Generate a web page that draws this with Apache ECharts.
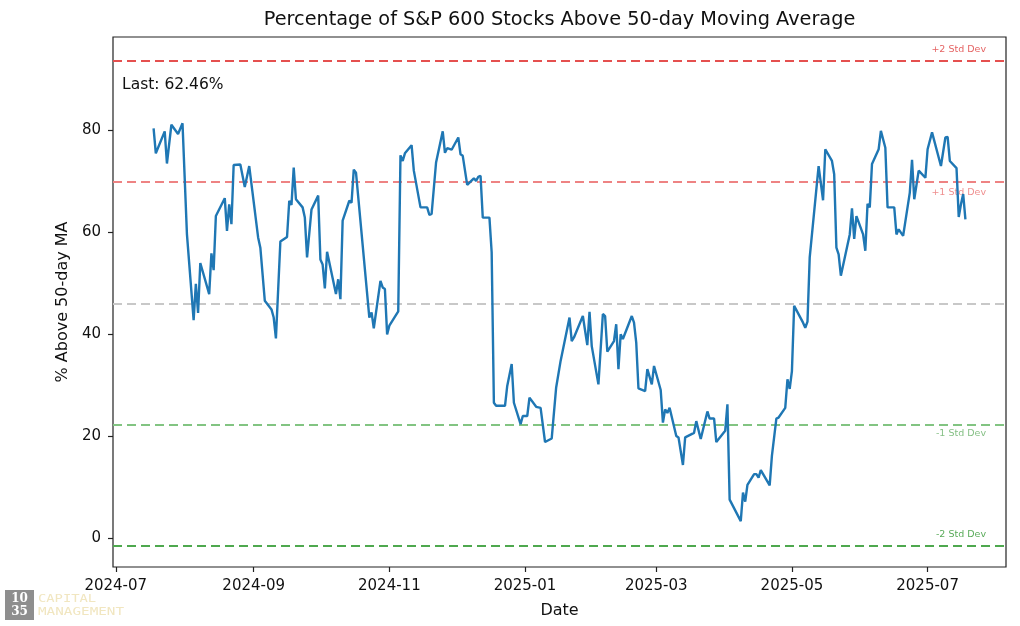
<!DOCTYPE html>
<html>
<head>
<meta charset="utf-8">
<script src="https://cdn.jsdelivr.net/npm/echarts@6/dist/echarts.min.js"></script>
<style>
html,body{margin:0;padding:0;background:#fff;}
#chart{width:1020px;height:626px;}
</style>
</head>
<body>
<div id="chart"></div>
<script>
// ---- data ----
const dates = [
'2024-07-18','2024-07-19','2024-07-23','2024-07-24','2024-07-26','2024-07-29','2024-07-31',
'2024-08-02','2024-08-05','2024-08-06','2024-08-07','2024-08-08','2024-08-12','2024-08-13','2024-08-14','2024-08-15','2024-08-19','2024-08-20','2024-08-21','2024-08-22','2024-08-23','2024-08-26','2024-08-28','2024-08-30',
'2024-09-03','2024-09-04','2024-09-06','2024-09-09','2024-09-10','2024-09-11','2024-09-13','2024-09-16','2024-09-17','2024-09-18','2024-09-19','2024-09-20','2024-09-23','2024-09-24','2024-09-25','2024-09-27','2024-09-30',
'2024-10-01','2024-10-02','2024-10-03','2024-10-04','2024-10-08','2024-10-09','2024-10-10','2024-10-11','2024-10-14','2024-10-15','2024-10-16','2024-10-17','2024-10-23','2024-10-24','2024-10-25','2024-10-28','2024-10-29','2024-10-30','2024-10-31',
'2024-11-01','2024-11-05','2024-11-06','2024-11-07','2024-11-08','2024-11-11','2024-11-12','2024-11-15','2024-11-18','2024-11-19','2024-11-20','2024-11-22','2024-11-25','2024-11-26','2024-11-27','2024-11-29',
'2024-12-02','2024-12-03','2024-12-04','2024-12-06','2024-12-09','2024-12-10','2024-12-11','2024-12-12','2024-12-13','2024-12-16','2024-12-17','2024-12-18','2024-12-19','2024-12-23','2024-12-24','2024-12-26','2024-12-27','2024-12-30','2024-12-31',
'2025-01-02','2025-01-03','2025-01-06','2025-01-08','2025-01-10','2025-01-13','2025-01-15','2025-01-17','2025-01-21','2025-01-22','2025-01-23','2025-01-27','2025-01-29','2025-01-30','2025-01-31',
'2025-02-03','2025-02-05','2025-02-06','2025-02-07','2025-02-10','2025-02-11','2025-02-12','2025-02-13','2025-02-14','2025-02-18','2025-02-19','2025-02-20','2025-02-21','2025-02-24','2025-02-25','2025-02-27','2025-02-28',
'2025-03-03','2025-03-04','2025-03-05','2025-03-06','2025-03-07','2025-03-10','2025-03-11','2025-03-13','2025-03-14','2025-03-18','2025-03-19','2025-03-21','2025-03-24','2025-03-25','2025-03-27','2025-03-28',
'2025-04-01','2025-04-02','2025-04-03','2025-04-08','2025-04-09','2025-04-10','2025-04-11','2025-04-14','2025-04-15','2025-04-16','2025-04-17','2025-04-21','2025-04-22','2025-04-24','2025-04-25','2025-04-28','2025-04-29','2025-04-30',
'2025-05-01','2025-05-02','2025-05-06','2025-05-07','2025-05-08','2025-05-09','2025-05-13','2025-05-15','2025-05-16','2025-05-19','2025-05-20','2025-05-21','2025-05-22','2025-05-23','2025-05-27','2025-05-28','2025-05-29','2025-05-30',
'2025-06-02','2025-06-03','2025-06-04','2025-06-05','2025-06-06','2025-06-09','2025-06-10','2025-06-12','2025-06-13','2025-06-16','2025-06-17','2025-06-18','2025-06-20','2025-06-23','2025-06-24','2025-06-25','2025-06-27','2025-06-30',
'2025-07-01','2025-07-03','2025-07-07','2025-07-09','2025-07-10','2025-07-11','2025-07-14','2025-07-15','2025-07-16','2025-07-17','2025-07-18'
];
const pctAbove = [
80.3, 75.4, 79.7, 73.4, 81.0, 79.2, 81.3,
59.5, 42.7, 49.8, 44.1, 53.9, 47.8, 55.8, 52.5, 63.1, 66.6, 60.2, 65.4, 61.5, 73.1, 73.2, 68.8, 72.9,
58.9, 56.9, 46.5, 44.8, 43.2, 39.1, 58.1, 59.0, 66.1, 65.3, 72.6, 66.4, 64.8, 62.8, 55.0, 64.4, 67.1,
54.6, 53.6, 48.9, 56.1, 47.8, 50.7, 46.8, 62.2, 66.1, 65.7, 72.2, 71.6, 43.2, 44.2, 41.1, 50.4, 49.1, 48.8, 39.9,
41.6, 44.4, 75.0, 73.9, 75.4, 77.0, 72.0, 64.8, 64.8, 63.3, 63.5, 73.6, 79.7, 75.5, 76.4, 76.1,
78.5, 75.2, 74.9, 69.2, 70.5, 70.0, 70.8, 71.0, 62.8, 62.8, 56.0, 26.5, 25.9, 25.9, 29.8, 34.1, 26.5, 22.3, 23.9,
23.9, 27.5, 25.7, 25.5, 18.8, 19.5, 29.5, 34.7, 43.2, 38.6, 39.3, 43.5, 37.8, 44.3, 37.6,
30.1, 43.9, 43.5, 36.5, 38.6, 41.9, 33.1, 39.9, 39.0, 43.5, 42.2, 38.3, 29.3, 28.8, 33.1, 30.1, 33.7,
29.0, 22.6, 25.2, 24.5, 25.5, 20.0, 19.7, 14.3, 19.7, 20.6, 22.9, 19.4, 24.8, 23.4, 23.4, 18.8,
21.0, 26.2, 7.5, 3.3, 8.9, 7.1, 10.4, 12.5, 12.5, 11.8, 13.3, 10.3, 16.1, 23.4, 23.6, 25.5, 31.1, 29.2,
32.7, 45.5, 42.2, 41.2, 42.4, 55.0, 72.9, 66.2, 76.2, 73.9, 71.3, 56.9, 55.6, 51.4, 59.5, 64.6, 58.6, 63.1,
59.5, 56.3, 65.5, 64.8, 73.3, 76.2, 79.8, 76.5, 64.8, 64.8, 59.5, 60.5, 59.2, 67.7, 74.1, 66.4, 72.0, 70.6,
76.2, 79.5, 72.9, 78.5, 78.6, 73.9, 72.5, 62.9, 65.4, 67.4, 62.46
];
const meanValue = 46.0;
const stdValue = 23.8;
const bandLabels = ['+2 Std Dev', '+1 Std Dev', '', '-1 Std Dev', '-2 Std Dev'];
const bandMultipliers = [2, 1, 0, -1, -2];
const xTickLabels = ['2024-07','2024-09','2024-11','2025-01','2025-03','2025-05','2025-07'];
const yTickValues = [0, 20, 40, 60, 80];

// ---- helpers ----
function localTime(s) {
  const p = s.split('-').map(Number);
  return new Date(p[0], p[1] - 1, p[2] || 1).getTime();
}
const seriesData = dates.map((d, i) => [localTime(d), pctAbove[i]]);
const tFirst = localTime(dates[0]);
const tLast = localTime(dates[dates.length - 1]);
const tSpan = tLast - tFirst;
const xTicks = xTickLabels.map(localTime);

const bandStyles = [
  { line: '#e5504f', text: '#e56464', pos: 'insideEndTop', dist: [20, 6] },
  { line: '#ee8383', text: '#ef8f8f', pos: 'insideEndBottom', dist: [20, 6] },
  { line: '#c8c8c8', text: '#c8c8c8', pos: 'insideEndTop', dist: [20, 6] },
  { line: '#82c482', text: '#86c086', pos: 'insideEndBottom', dist: [20, 4] },
  { line: '#4ea84e', text: '#5aab5a', pos: 'insideEndTop', dist: [20, 7] }
];
const markLineData = bandMultipliers.map((k, i) => ({
  yAxis: meanValue + k * stdValue,
  lineStyle: { color: bandStyles[i].line, type: [9, 5], width: 2 },
  label: {
    show: bandLabels[i] !== '',
    formatter: bandLabels[i],
    position: bandStyles[i].pos,
    distance: bandStyles[i].dist,
    color: bandStyles[i].text,
    fontSize: 9.5,
    fontFamily: 'DejaVu Sans'
  }
}));

const chart = echarts.init(document.getElementById('chart'), null, { renderer: 'canvas' });
const FONT = 'DejaVu Sans';
chart.setOption({
  animation: false,
  backgroundColor: '#ffffff',
  grid: { left: 113, right: 14, top: 37, bottom: 59, show: true, borderColor: '#222', borderWidth: 1.2, containLabel: false },
  xAxis: {
    type: 'value',
    min: tFirst - 0.05 * tSpan,
    max: tLast + 0.05 * tSpan,
    name: 'Date',
    nameLocation: 'middle',
    nameGap: 36,
    nameTextStyle: { fontFamily: FONT, fontSize: 16, color: '#111' },
    axisLine: { show: false, onZero: false },
    splitLine: { show: false },
    axisTick: { show: true, length: 5, inside: false, customValues: xTicks, lineStyle: { color: '#222', width: 1.2 } },
    axisLabel: {
      customValues: xTicks,
      margin: 12,
      fontFamily: FONT, fontSize: 15, color: '#111',
      formatter: function (v) {
        const d = new Date(v);
        return d.getFullYear() + '-' + String(d.getMonth() + 1).padStart(2, '0');
      }
    }
  },
  yAxis: {
    type: 'value',
    min: -5.7,
    max: 98.2,
    name: '% Above 50-day MA',
    nameLocation: 'middle',
    nameGap: 40,
    nameTextStyle: { fontFamily: FONT, fontSize: 16, color: '#111' },
    axisLine: { show: false, onZero: false },
    splitLine: { show: false },
    axisTick: { show: true, length: 5, inside: false, customValues: yTickValues, lineStyle: { color: '#222', width: 1.2 } },
    axisLabel: { customValues: yTickValues, margin: 12, fontFamily: FONT, fontSize: 15, color: '#111' }
  },
  series: [{
    type: 'line',
    data: seriesData,
    showSymbol: false,
    symbol: 'none',
    lineStyle: { color: '#1f77b4', width: 2.4 },
    z: 3,
    markLine: {
      silent: true,
      symbol: 'none',
      z: 2,
      data: markLineData
    }
  }],
  graphic: [
    { type: 'text', x: 559.5, y: 20, style: { text: 'Percentage of S&P 600 Stocks Above 50-day Moving Average', font: '19.3px "DejaVu Sans"', fill: '#111', textAlign: 'center', textVerticalAlign: 'middle' } },
    { type: 'text', x: 122, y: 85, style: { text: 'Last: ' + pctAbove[pctAbove.length - 1].toFixed(2) + '%', font: '15.5px "DejaVu Sans"', fill: '#111', textAlign: 'left', textVerticalAlign: 'middle' } },
    { type: 'rect', shape: { x: 5, y: 590, width: 29, height: 30 }, style: { fill: '#8e8e8e' } },
    { type: 'text', x: 19.5, y: 598.5, style: { text: '10', font: 'bold 12px "DejaVu Serif"', fill: '#ffffff', textAlign: 'center', textVerticalAlign: 'middle' } },
    { type: 'text', x: 19.5, y: 612, style: { text: '35', font: 'bold 12px "DejaVu Serif"', fill: '#ffffff', textAlign: 'center', textVerticalAlign: 'middle' } },
    { type: 'text', x: 38, y: 599, scaleX: 1.38, style: { text: 'CAPITAL', font: '10px "DejaVu Sans Mono"', fill: '#f1e6c0', textAlign: 'left', textVerticalAlign: 'middle' } },
    { type: 'text', x: 38, y: 612.5, scaleX: 1.43, style: { text: 'MANAGEMENT', font: '10px "DejaVu Sans Mono"', fill: '#f1e6c0', textAlign: 'left', textVerticalAlign: 'middle' } }
  ]
});
</script>
</body>
</html>
